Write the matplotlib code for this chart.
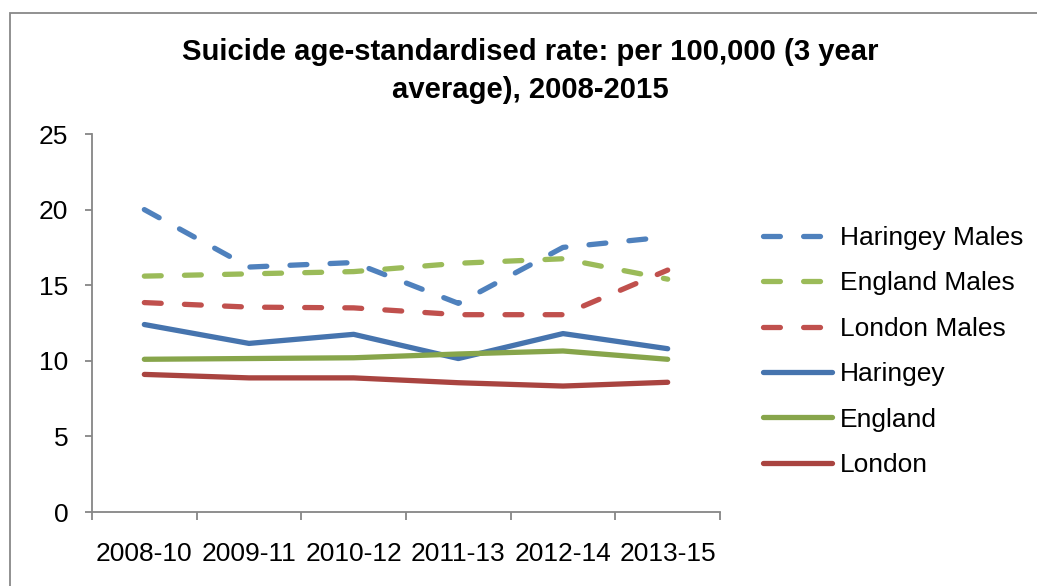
import matplotlib
matplotlib.use("Agg")
import matplotlib.pyplot as plt
from matplotlib.patches import Rectangle

plt.rcParams['font.family'] = ['Liberation Sans', 'DejaVu Sans']

categories = ["2008-10", "2009-11", "2010-12", "2011-13", "2012-14", "2013-15"]
haringey_males = [20.0, 16.2, 16.5, 13.8, 17.5, 18.2]
england_males = [15.6, 15.75, 15.9, 16.45, 16.75, 15.4]
london_males = [13.85, 13.55, 13.5, 13.05, 13.05, 16.0]
haringey = [12.4, 11.15, 11.75, 10.15, 11.8, 10.8]
england = [10.1, 10.15, 10.2, 10.45, 10.65, 10.1]
london = [9.1, 8.87, 8.87, 8.55, 8.33, 8.58]
y_ticks = [0, 5, 10, 15, 20, 25]

fig = plt.figure(figsize=(10.37, 5.86), dpi=100)
ax = fig.add_axes([92/1037, 1-512/586, 628/1037, 378/586])

x = list(range(len(categories)))
lw = 3.8
dash = (3.2, 4.4)
series = [
    ("Haringey Males", haringey_males, "#4F81BD", True),
    ("England Males", england_males, "#9BBB59", True),
    ("London Males", london_males, "#C0504D", True),
    ("Haringey", haringey, "#4674AE", False),
    ("England", england, "#87A54B", False),
    ("London", london, "#A94440", False),
]
for name, vals, col, dashed in series:
    if dashed:
        ax.plot(x, vals, color=col, lw=lw, dashes=dash, dash_capstyle='round',
                solid_joinstyle='round', label=name)
    else:
        ax.plot(x, vals, color=col, lw=lw, solid_capstyle='round',
                solid_joinstyle='round', label=name)

ax.set_xlim(-0.5, len(categories) - 0.5)
ax.set_ylim(0, 25)
ax.set_yticks(y_ticks)
ax.set_xticks(x)
ax.set_xticklabels(categories)
ax.set_xticks([i - 0.5 for i in range(len(categories) + 1)], minor=True)
ax.tick_params(axis='x', which='major', length=0, pad=21.5, labelsize=19)
ax.tick_params(axis='x', which='minor', length=6, width=1.3, color='#868686', direction='out')
ax.tick_params(axis='y', length=5, width=1.3, color='#868686', pad=12, labelsize=19)

for s in ['top', 'right']:
    ax.spines[s].set_visible(False)
for s in ['left', 'bottom']:
    ax.spines[s].set_color('#868686')
    ax.spines[s].set_linewidth(1.3)

fig.text(530/1037, 1-71/586, "Suicide age-standardised rate: per 100,000 (3 year\naverage), 2008-2015",
         ha='center', va='center', fontsize=21.1, fontweight='bold', linespacing=1.5)

leg = ax.legend(loc='upper left', bbox_to_anchor=(763/1037, 1-226/586),
                bbox_transform=fig.transFigure, frameon=False, fontsize=19,
                handlelength=2.6, handletextpad=0.3, labelspacing=0.81,
                borderpad=0, borderaxespad=0)

fig.patches.append(Rectangle((10/1037, -0.05), 1.1, 1.05 - 13/586,
                             transform=fig.transFigure, fill=False,
                             edgecolor='#888888', linewidth=1.3))

fig.savefig("out.png", dpi=100)
